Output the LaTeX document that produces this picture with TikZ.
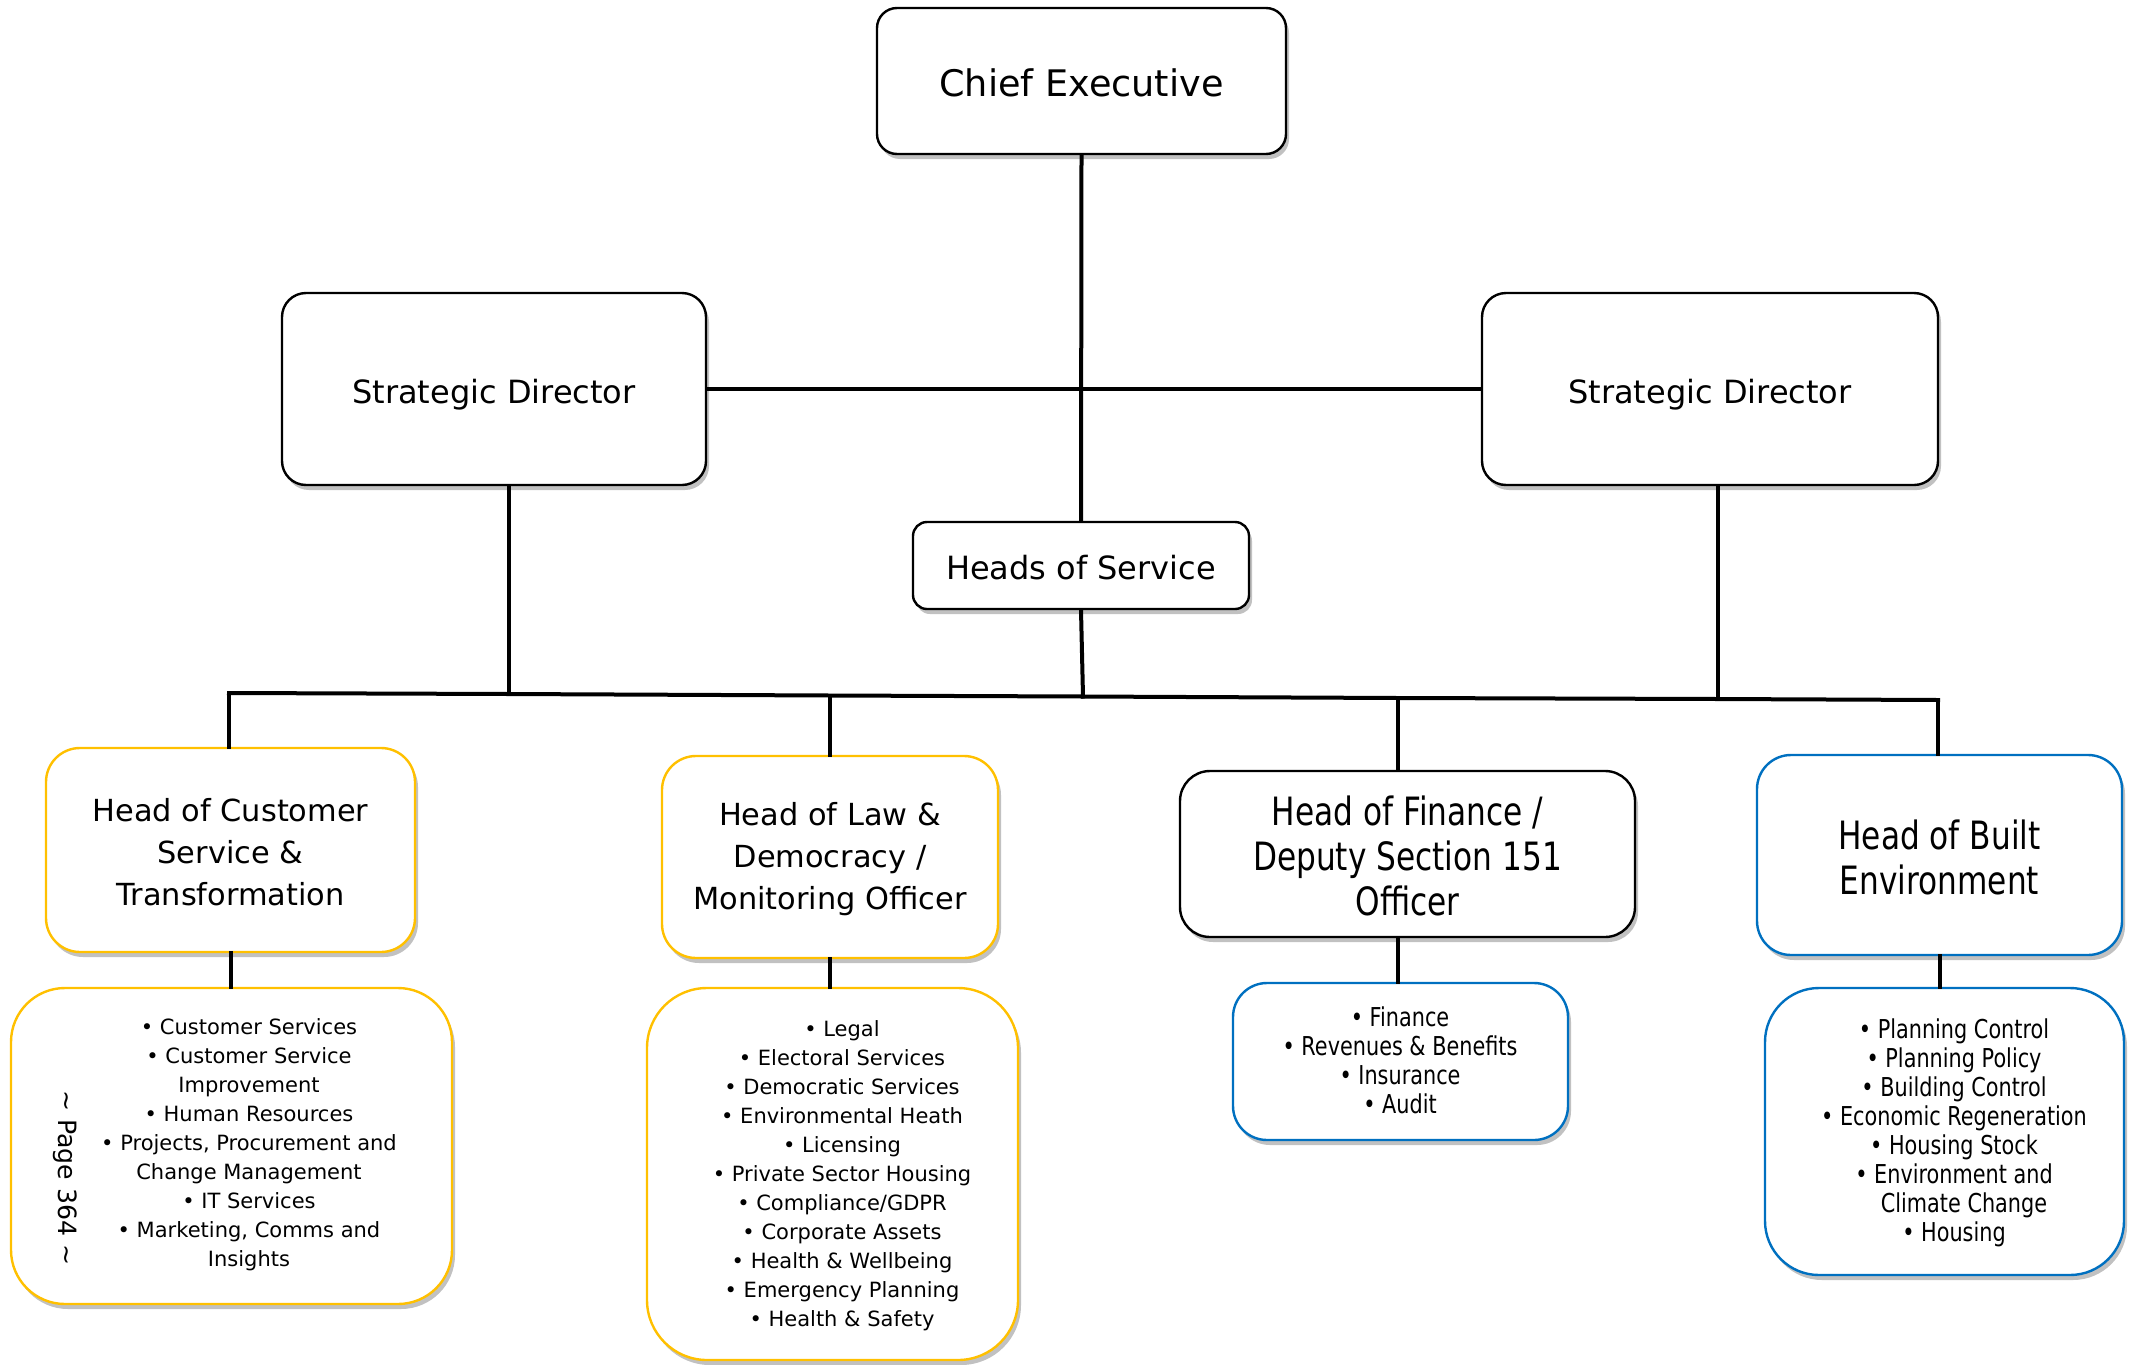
\documentclass[tikz,border=0pt]{standalone}
\usepackage{fontspec}
\setmainfont{DejaVu Sans}
\newfontfamily\condfont[FakeStretch=0.8]{DejaVu Sans}
\usetikzlibrary{fit,shadows,calc}
\definecolor{gold}{HTML}{FFC000}
\definecolor{blu}{HTML}{0070C0}
\tikzset{
  box/.style={draw=black, line width=1.2pt, fill=white, inner sep=0pt,
    drop shadow={shadow xshift=1.5pt, shadow yshift=-2.5pt, opacity=0.35, fill=black!70}},
  goldbox/.style={box, draw=gold},
  bluebox/.style={box, draw=blu},
  txt/.style={inner sep=0pt, align=center},
  bigfont/.style={txt, font=\fontsize{16}{20}\selectfont},
  headfont/.style={txt, font=\fontsize{15.2}{21}\selectfont},
  condhead/.style={txt, font=\condfont\fontsize{19.5}{22.5}\selectfont},
  listfont/.style={txt, font=\fontsize{10.5}{14.5}\selectfont},
  condlist/.style={txt, font=\condfont\fontsize{13}{14.5}\selectfont},
  conn/.style={line width=2pt, line cap=rect}
}
\begin{document}
\begin{tikzpicture}[x=0.5pt,y=-0.5pt]
\useasboundingbox (0,0) rectangle (2136,1365);

% top levels
\node[box, rounded corners=10pt, fit={(877,8) (1286,154)}] (ce) {};
\node[txt, font=\fontsize{18.3}{22}\selectfont] (cet) at ($(ce.center)+(0,2)$) {Chief Executive};
\node[box, rounded corners=12pt, fit={(282,293) (706,485)}] (sdl) {};
\node[bigfont] (sdlt) at ($(sdl.center)+(0,6)$) {Strategic Director};
\node[box, rounded corners=12pt, fit={(1482,293) (1938,485)}] (sdr) {};
\node[bigfont] (sdrt) at ($(sdr.center)+(0,6)$) {Strategic Director};
\node[box, rounded corners=7pt, fit={(913,522) (1249,609)}] (hos) {};
\node[bigfont] (host) at ($(hos.center)+(0,2)$) {Heads of Service};

% heads
\node[goldbox, rounded corners=17pt, fit={(46,748) (415,952)}] (hcs) {};
\node[headfont] (hcst0) at ($(hcs.center)+(0,2)$) {Head of Customer\\Service \&\\Transformation};
\node[goldbox, rounded corners=17pt, fit={(662,756) (998,958)}] (hld) {};
\node[headfont] (hldt0) at ($(hld.center)+(0,2)$) {Head of Law \&\\Democracy /\\Monitoring Officer};
\node[box, rounded corners=15pt, fit={(1180,771) (1635,937)}] (hf) {};
\node[condhead] (hft0) at ($(hf.center)+(0,2)$) {Head of Finance /\\Deputy Section 151\\Officer};
\node[bluebox, rounded corners=17pt, fit={(1757,755) (2122,955)}] (hbe) {};
\node[condhead] (hbet0) at ($(hbe.center)+(0,2)$) {Head of Built\\Environment};

% lists
\node[goldbox, rounded corners=27pt, fit={(11,988) (452,1304)}] (hcsl) {};
\node[goldbox, rounded corners=30pt, fit={(647,988) (1018,1360)}] (hldl) {};
\node[bluebox, rounded corners=17pt, fit={(1233,983) (1568,1140)}] (hfl) {};
\node[bluebox, rounded corners=27pt, fit={(1765,988) (2124,1275)}] (hbel) {};

\node[listfont] (hcst) at (249,1145) {• Customer Services\\• Customer Service\\Improvement\\• Human Resources\\• Projects, Procurement and\\Change Management\\• IT Services\\• Marketing, Comms and\\Insights};
\node[txt, rotate=-90, font=\fontsize{12.6}{15}\selectfont] (page) at (65,1178) {\textasciitilde\ Page 364 \textasciitilde};
\node[listfont] (hldt) at (842,1176) {• Legal\\• Electoral Services\\• Democratic Services\\• Environmental Heath\\• Licensing\\• Private Sector Housing\\• Compliance/GDPR\\• Corporate Assets\\• Health \& Wellbeing\\• Emergency Planning\\• Health \& Safety};
\node[condlist] (hft) at (1400,1060) {• Finance\\• Revenues \& Benefits\\• Insurance\\• Audit};
\node[condlist] (hbet) at (1954,1133) {• Planning Control\\• Planning Policy\\• Building Control\\• Economic Regeneration\\• Housing Stock\\• Environment and\\\hspace*{10pt}Climate Change\\• Housing};

% bus coordinates
\coordinate (b1) at (229,693);
\coordinate (jl) at (509,694);
\coordinate (b2) at (830,695.5);
\coordinate (jm) at (1083,696.5);
\coordinate (b3) at (1398,698);
\coordinate (jr) at (1718,699);
\coordinate (b4) at (1938,700);

% connectors
\draw[conn] (ce.south) -- (hos.north);
\draw[conn] (sdl.east) -- (sdr.west);
\draw[conn] (hos.south) -- (jm);
\draw[conn] (sdl.south -| jl) -- (jl);
\draw[conn] (sdr.south -| jr) -- (jr);
\draw[conn] (b1) -- (jl) -- (b2) -- (jm) -- (b3) -- (jr) -- (b4);
\draw[conn] (b1) -- (b1 |- hcs.north);
\draw[conn] (b2) -- (b2 |- hld.north);
\draw[conn] (b3) -- (b3 |- hf.north);
\draw[conn] (b4) -- (b4 |- hbe.north);
\draw[conn] (hcs.south) -- (hcs.south |- hcsl.north);
\draw[conn] (hld.south) -- (hld.south |- hldl.north);
\draw[conn] (hfl.north -| b3) -- (b3 |- hf.south);
\draw[conn] (hbe.south) -- (hbe.south |- hbel.north);
\end{tikzpicture}
\end{document}
